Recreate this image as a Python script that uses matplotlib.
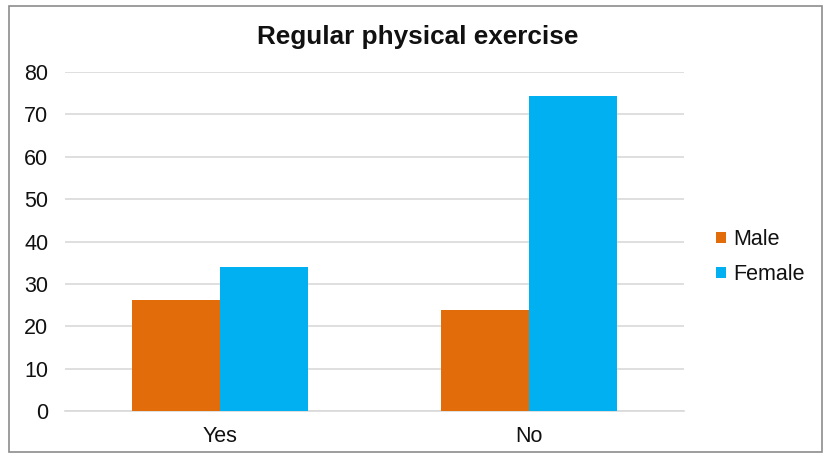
import matplotlib
matplotlib.use("Agg")
import matplotlib.pyplot as plt
from matplotlib.patches import Rectangle
import numpy as np

plt.rcParams['font.family'] = ['Liberation Sans', 'DejaVu Sans']

categories = ["Yes", "No"]
male = [26.2, 23.8]
female = [33.9, 74.3]
series_names = ["Male", "Female"]
colors = ["#E36C0A", "#00B0F0"]
yticks = [0, 10, 20, 30, 40, 50, 60, 70, 80]

W, H = 825, 458
fig = plt.figure(figsize=(W / 100, H / 100), dpi=100)
ax = fig.add_axes([65 / W, 1 - 411 / H, (684 - 65) / W, (411 - 72) / H])

x = np.arange(len(categories))
bw = 0.285
ax.bar(x - bw / 2, male, bw, color=colors[0], label=series_names[0], zorder=3)
ax.bar(x + bw / 2, female, bw, color=colors[1], label=series_names[1], zorder=3)

ax.set_xlim(-0.5, 1.5)
ax.set_ylim(0, 80)
ax.set_yticks(yticks)
ax.set_xticks(x)
ax.set_xticklabels(categories)
ax.tick_params(axis='both', length=0, labelsize=15.5, colors='#111111')
ax.tick_params(axis='y', pad=12)
ax.tick_params(axis='x', pad=11)
ax.grid(axis='y', color='#D9D9D9', linewidth=1.2, zorder=0)
for s in ['top', 'right', 'left']:
    ax.spines[s].set_visible(False)
ax.spines['bottom'].set_color('#D9D9D9')
ax.spines['bottom'].set_linewidth(1.2)

fig.text(418 / W, 1 - 37 / H, "Regular physical exercise", ha='center', va='center',
         fontsize=18.8, fontweight='bold', color='#111111')

leg = fig.legend(loc='center left', bbox_to_anchor=(697 / W, 1 - 257 / H), frameon=False,
                 fontsize=15.5, handlelength=0.45, handleheight=0.45, handletextpad=0.35,
                 labelspacing=0.65)
for t in leg.get_texts():
    t.set_color('#111111')

fig.patches.append(Rectangle((9 / W, 1 - 452 / H), (822 - 9) / W, (452 - 6) / H,
                             transform=fig.transFigure, fill=False,
                             edgecolor='#8C8C8C', linewidth=1.2))

fig.savefig("out.png", dpi=100)
